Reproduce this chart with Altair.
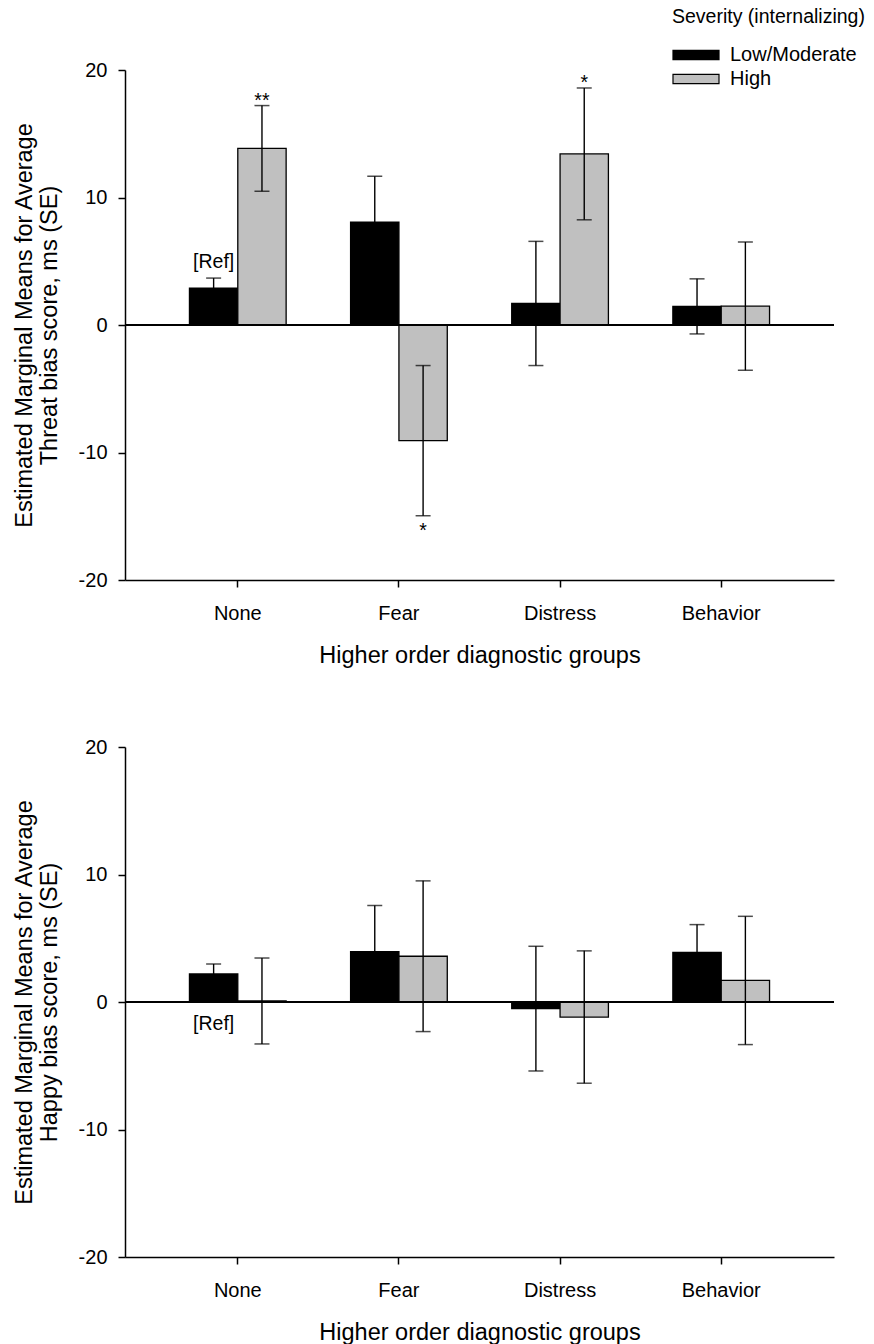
import altair as alt
import pandas as pd

categories = ["None", "Fear", "Distress", "Behavior"]
series = ["Low/Moderate", "High"]

threat_low = [2.90, 8.07, 1.69, 1.46]
threat_low_se = [0.78, 3.60, 4.87, 2.16]
threat_high = [13.85, -9.07, 13.42, 1.48]
threat_high_se = [3.36, 5.89, 5.17, 5.03]

happy_low = [2.20, 3.95, -0.52, 3.90]
happy_low_se = [0.78, 3.61, 4.89, 2.17]
happy_high = [0.08, 3.59, -1.18, 1.69]
happy_high_se = [3.37, 5.91, 5.19, 5.03]

# annotations: category, series, label, placement
threat_notes = [
    ("None", "Low/Moderate", "[Ref]", "ref_above"),
    ("None", "High", "**", "above"),
    ("Fear", "High", "*", "below"),
    ("Distress", "High", "*", "above"),
]
happy_notes = [
    ("None", "Low/Moderate", "[Ref]", "ref_below"),
]

FONT = "Liberation Sans"


def make_df(low, low_se, high, high_se, notes):
    rows = []
    for i, c in enumerate(categories):
        for s, m, e in ((series[0], low[i], low_se[i]), (series[1], high[i], high_se[i])):
            rows.append({"cat": c, "series": s, "mean": m, "se": e,
                         "lo": m - e, "hi": m + e, "label": "", "place": ""})
    df = pd.DataFrame(rows)
    for c, s, lab, place in notes:
        idx = (df["cat"] == c) & (df["series"] == s)
        df.loc[idx, "label"] = lab
        df.loc[idx, "place"] = place
    df["zero"] = 0.0
    return df


def panel(df, ytitle, show_legend):
    x = alt.X("cat:N", sort=categories,
              scale=alt.Scale(paddingInner=0.4, paddingOuter=0.4),
              axis=alt.Axis(title="Higher order diagnostic groups", labelAngle=0,
                            bandPosition=0.5, labelPadding=16, titlePadding=20))
    xo = alt.XOffset("series:N", sort=series,
                     scale=alt.Scale(paddingInner=0, paddingOuter=0))
    yscale = alt.Scale(domain=[-20, 20], nice=False, zero=False)
    yaxis = alt.Axis(values=[-20, -10, 0, 10, 20], title=ytitle,
                     labelExpr="'' + datum.value",
                     labelPadding=11, titlePadding=17)

    if show_legend:
        legend = alt.Legend(orient="none", legendX=547, legendY=-62,
                            title="Severity (internalizing)",
                            titleFontSize=19.5, titleFontWeight="normal",
                            titleFont=FONT, titleColor="black", titleLimit=400,
                            labelFont=FONT, labelFontSize=20, labelColor="black",
                            labelLimit=400,
                            symbolType="M-1,-0.4L3,-0.4L3,0.4L-1,0.4Z",
                            symbolSize=529, symbolStrokeColor="black",
                            symbolStrokeWidth=1.2, symbolOpacity=1,
                            labelOffset=33, rowPadding=1, titlePadding=15)
    else:
        legend = None

    color = alt.Color("series:N", sort=series,
                      scale=alt.Scale(domain=series, range=["#000000", "#c0c0c0"]),
                      legend=legend)

    base = alt.Chart(df).encode(x=x, xOffset=xo)

    bars = base.mark_bar(stroke="black", strokeWidth=1.3, opacity=1).encode(
        y=alt.Y("mean:Q", scale=yscale, axis=yaxis),
        y2=alt.Y2("zero:Q"),
        color=color,
    )
    zero = alt.Chart(df).mark_rule(color="black", strokeWidth=1.5).encode(
        y=alt.datum(0)
    )
    err = base.mark_rule(color="black", strokeWidth=1.4).encode(
        y="lo:Q", y2="hi:Q"
    )
    cap_hi = base.mark_tick(color="black", orient="horizontal", size=15,
                            thickness=1.5).encode(y="hi:Q")
    cap_lo = base.mark_tick(color="black", orient="horizontal", size=15,
                            thickness=1.5).encode(y="lo:Q")

    ast_above = base.transform_filter(alt.datum.place == "above").mark_text(
        font=FONT, fontSize=19.5, baseline="alphabetic", dy=1, color="black"
    ).encode(y="hi:Q", text="label:N")
    ast_below = base.transform_filter(alt.datum.place == "below").mark_text(
        font=FONT, fontSize=19.5, baseline="top", dy=6, color="black"
    ).encode(y="lo:Q", text="label:N")
    ref_above = base.transform_filter(alt.datum.place == "ref_above").mark_text(
        font=FONT, fontSize=19.5, baseline="alphabetic", dy=-10, color="black"
    ).encode(y="hi:Q", text="label:N")
    ref_below = base.transform_filter(alt.datum.place == "ref_below").mark_text(
        font=FONT, fontSize=19.5, baseline="alphabetic", dy=28, color="black"
    ).encode(y="zero:Q", text="label:N")

    return alt.layer(bars, zero, err, cap_hi, cap_lo, ast_above, ast_below,
                     ref_above, ref_below).properties(width=709, height=510)


top_df = make_df(threat_low, threat_low_se, threat_high, threat_high_se, threat_notes)
bot_df = make_df(happy_low, happy_low_se, happy_high, happy_high_se, happy_notes)

top = panel(top_df, ["Estimated Marginal Means for Average", "Threat bias score, ms (SE)"], True)
bot = panel(bot_df, ["Estimated Marginal Means for Average", "Happy bias score, ms (SE)"], False)

chart = alt.vconcat(top, bot, spacing=70).resolve_legend(color="independent").properties(
    padding={"left": 12, "top": 8, "right": 0, "bottom": 0},
    background="white",
).configure_view(stroke=None).configure_axis(
    grid=False, domainColor="black", domainWidth=1.5, tickColor="black",
    tickWidth=1.5, tickSize=7, labelFont=FONT, labelFontSize=20,
    labelColor="black", titleFont=FONT, titleFontSize=23.5,
    titleFontWeight="normal", titleColor="black", titleLineHeight=25,
)

chart.save("out.html", embed_options={"renderer": "svg", "actions": False})
